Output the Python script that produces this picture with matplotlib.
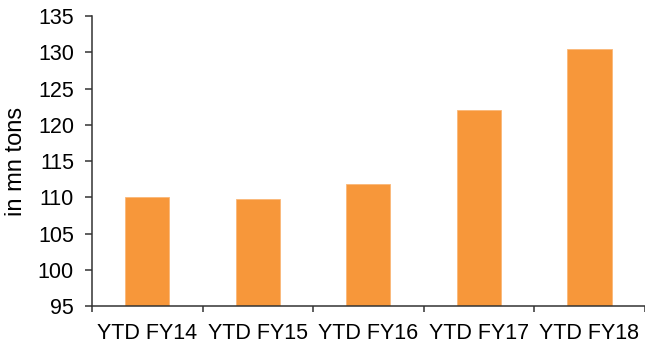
import numpy as np
import matplotlib.pyplot as plt
from matplotlib.ticker import FixedLocator

plt.rcParams['font.family'] = ['Liberation Sans', 'DejaVu Sans']

# Volumes by period
periods = ['YTD FY14', 'YTD FY15', 'YTD FY16', 'YTD FY17', 'YTD FY18']
volumes = [110.0, 109.85, 111.9, 122.1, 130.5]

fig = plt.figure(figsize=(6.45, 3.47), dpi=100)
ax = fig.add_axes([0.1426, 0.117, 0.857, 0.837])

x = np.arange(len(periods))
ax.bar(x, volumes, width=0.4, color='#F7973A', edgecolor='#FAB777', linewidth=0.6,
       zorder=2)

ax.set_ylim(95, 135)
ax.set_yticks(np.arange(95, 136, 5))
ax.set_xlim(-0.5, len(periods) - 0.5)
ax.set_xticks(x)
ax.set_xticklabels(periods)
ax.xaxis.set_minor_locator(FixedLocator(np.arange(-0.5, len(periods), 1.0)))

for side in ['top', 'right']:
    ax.spines[side].set_visible(False)
for side in ['left', 'bottom']:
    ax.spines[side].set_color('#333333')
    ax.spines[side].set_linewidth(1.1)

ax.tick_params(axis='y', direction='out', length=5, width=1.1, color='#333333',
               labelsize=15.5, pad=8)
ax.tick_params(axis='x', which='major', length=0, labelsize=15.5, pad=12)
ax.tick_params(axis='x', which='minor', direction='out', length=4, width=1.1,
               color='#333333')

ax.set_ylabel('in mn tons', fontsize=17, labelpad=8)

fig.savefig('out.png', dpi=100)
